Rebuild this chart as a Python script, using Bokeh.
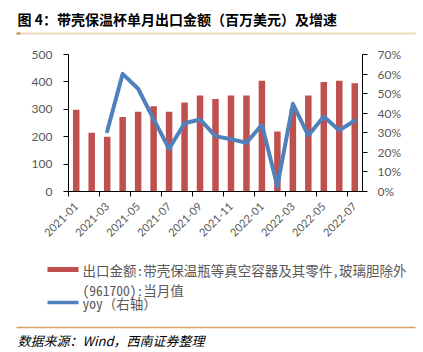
import math
from bokeh.plotting import figure
from bokeh.models import Range1d, LinearAxis, FixedTicker, NumeralTickFormatter
from bokeh.layouts import column, row
from bokeh.core.properties import value
from bokeh.embed import file_html
from bokeh.resources import INLINE

# ---------------- data ----------------
months = ["2021-01", "2021-02", "2021-03", "2021-04", "2021-05", "2021-06", "2021-07",
          "2021-08", "2021-09", "2021-10", "2021-11", "2021-12", "2022-01", "2022-02",
          "2022-03", "2022-04", "2022-05", "2022-06", "2022-07"]
export_value = [298, 214, 200, 272, 291, 311, 291, 325, 350, 338, 350, 350, 404, 219,
                300, 350, 400, 404, 395]
yoy_pct = [float("nan"), float("nan"), 30.8, 60.1, 52.5, 37.0, 21.8, 34.9, 36.8, 28.3,
           26.7, 24.9, 34.1, 2.7, 44.8, 28.6, 38.3, 31.2, 36.3]
left_ticks = [0, 100, 200, 300, 400, 500]
right_ticks = [0.0, 0.1, 0.2, 0.3, 0.4, 0.5, 0.6, 0.7]

title_text = "图 4：带壳保温杯单月出口金额（百万美元）及增速"
legend_bar_lines = ["出口金额:带壳保温瓶等真空容器及其零件,玻璃胆除外", "(961700):当月值"]
legend_line_text = "yoy（右轴）"
source_text = "数据来源：Wind，西南证券整理"

W = 423
GRAY = "#595959"
RED = "#c0504d"
BLUE = "#4f81bd"

n = len(months)
idx = list(range(n))
yoy = [v / 100.0 for v in yoy_pct]


def strip(h):
    f = figure(width=W, height=h, x_range=Range1d(0, W), y_range=Range1d(h, 0),
               output_backend="svg", toolbar_location=None, min_border=0,
               x_axis_type=None, y_axis_type=None, outline_line_color=None)
    f.grid.visible = False
    return f


# ---------------- title strip ----------------
TH = 42
t = strip(TH)
t.text(x=[17], y=[18], text=[title_text], text_font=value("Noto Sans CJK SC"),
       text_font_style="bold", text_font_size="14px", text_color="#000000",
       text_baseline="middle", text_align="left")
t.segment(x0=[16], y0=[33], x1=[415], y1=[33], line_color="#efdcbf", line_width=2)
t.segment(x0=[16], y0=[33], x1=[20], y1=[33], line_color="#c09050", line_width=2)

# ---------------- main chart ----------------
MH = 208
p = figure(width=W, height=MH, x_range=Range1d(-0.5, n - 0.5), y_range=Range1d(0, 500),
           output_backend="svg", toolbar_location=None,
           x_axis_type=None, y_axis_type=None, outline_line_color=None,
           min_border_top=12, min_border_bottom=59, min_border_left=68, min_border_right=61)
p.grid.visible = False
p.extra_y_ranges = {"yoy": Range1d(0, 0.7)}

p.vbar(x=idx, top=export_value, width=0.42, fill_color=RED, line_color=None)
p.line(x=idx, y=yoy, y_range_name="yoy", line_color=BLUE, line_width=4,
       line_join="round", line_cap="round")


def style_axis(ax, size="12px"):
    ax.axis_line_color = "#000000"
    ax.axis_line_width = 1
    ax.major_tick_line_color = "#000000"
    ax.major_tick_out = 5
    ax.major_tick_in = 0
    ax.minor_tick_line_color = None
    ax.major_label_text_color = GRAY
    ax.major_label_text_font = "Lato"
    ax.major_label_text_font_size = size


ly = LinearAxis(ticker=FixedTicker(ticks=left_ticks))
style_axis(ly)
ly.major_label_standoff = 11
p.add_layout(ly, "left")

ry = LinearAxis(y_range_name="yoy", ticker=FixedTicker(ticks=right_ticks),
                formatter=NumeralTickFormatter(format="0%"))
style_axis(ry)
ry.major_label_standoff = 10
p.add_layout(ry, "right")

bound_ticks = [i - 0.5 for i in range(0, n, 2)]
xa = LinearAxis(ticker=FixedTicker(ticks=bound_ticks),
                major_label_overrides={tk: "" for tk in bound_ticks})
style_axis(xa)
xa.major_label_standoff = 0
p.add_layout(xa, "below")

label_pos = list(range(0, n, 2))
xb = LinearAxis(ticker=FixedTicker(ticks=label_pos),
                major_label_overrides={i: months[i] for i in label_pos})
style_axis(xb, "11px")
xb.axis_line_color = None
xb.major_tick_line_color = None
xb.major_label_orientation = math.pi / 4
xb.major_label_standoff = 3
p.add_layout(xb, "below")

# ---------------- legend + source strip ----------------
BH = 352 - TH - MH
b = strip(BH)
legend_font = value("Noto Sans Mono CJK SC")
b.quad(left=[47], right=[78], top=[16.5], bottom=[21.5], fill_color=RED, line_color=None)
b.text(x=[82, 82], y=[19.5, 39], text=legend_bar_lines, text_font=legend_font,
       text_font_size="13.5px", text_color=GRAY, text_baseline="middle", text_align="left")
b.segment(x0=[47], y0=[52], x1=[78], y1=[52], line_color=BLUE, line_width=3.5)
b.text(x=[82], y=[52.5], text=[legend_line_text], text_font=legend_font,
       text_font_size="13.5px", text_color=GRAY, text_baseline="middle", text_align="left")
b.segment(x0=[16], y0=[77], x1=[415], y1=[77], line_color="#d9a464", line_width=1.5)
b.text(x=[17], y=[90], text=[source_text], text_font=value("Noto Sans CJK SC"),
       text_font_style="italic", text_font_size="13px", text_color="#000000",
       text_baseline="middle", text_align="left")

layout = column(row(t), row(p), row(b), spacing=0)
open("out.html", "w").write(file_html(layout, INLINE))
